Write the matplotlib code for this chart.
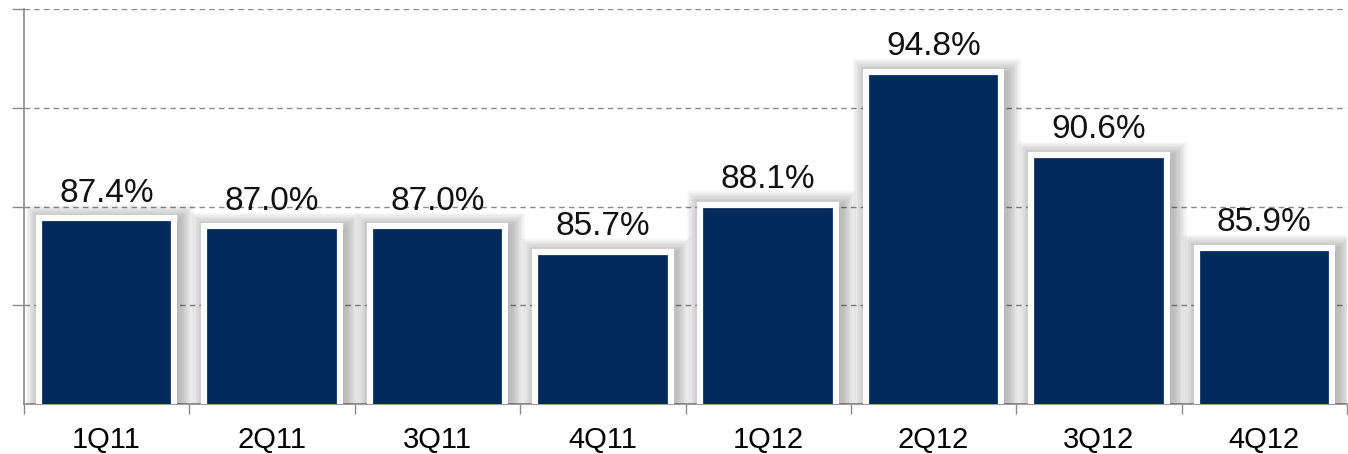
import matplotlib.pyplot as plt
import matplotlib.patheffects as pe
import numpy as np

plt.rcParams['font.family'] = ['Liberation Sans', 'DejaVu Sans']

# Quarterly values (%)
quarters = ['1Q11', '2Q11', '3Q11', '4Q11', '1Q12', '2Q12', '3Q12', '4Q12']
values = [87.4, 87.0, 87.0, 85.7, 88.1, 94.8, 90.6, 85.9]

x = np.arange(len(quarters))
bar_color = '#022a5c'

fig = plt.figure(figsize=(13.48, 4.54), dpi=100)
ax = fig.add_axes([24 / 1348, 50 / 454, 1323 / 1348, 395 / 454])

# soft drop shadow around each bar (stacked translucent strokes)
shadow = [pe.Stroke(offset=(2, -2), linewidth=w, foreground='black', alpha=0.028)
          for w in range(24, 4, -2)] + [pe.Normal()]

bars = ax.bar(x, values, width=0.82, color=bar_color, edgecolor='white',
              linewidth=4.5, zorder=3)
for b in bars:
    b.set_path_effects(shadow)

for b, v in zip(bars, values):
    ax.annotate(f'{v:.1f}%', xy=(b.get_x() + b.get_width() / 2, v),
                xytext=(0, 7), textcoords='offset points',
                ha='center', va='bottom', fontsize=24, color='#111111', zorder=4)

ax.set_ylim(78, 98)
ax.set_xlim(-0.5, len(quarters) - 0.5)

ax.set_yticks([83, 88, 93, 98])
ax.set_yticklabels([])
ax.yaxis.grid(True, linestyle=(0, (4, 3)), color='#8a8a8a', linewidth=1, zorder=0)
ax.tick_params(axis='y', length=9, width=1, color='#8a8a8a', direction='out')

ax.set_xticks(x)
ax.set_xticklabels(quarters, fontsize=21)
ax.set_xticks(np.arange(len(quarters) + 1) - 0.5, minor=True)
ax.tick_params(axis='x', which='major', length=0, pad=16)
ax.tick_params(axis='x', which='minor', length=7, width=1, color='#8a8a8a', direction='out')

for side in ('top', 'right'):
    ax.spines[side].set_visible(False)
for side in ('left', 'bottom'):
    ax.spines[side].set_color('#8a8a8a')
    ax.spines[side].set_linewidth(1.2)

fig.savefig('out.png', dpi=100)
